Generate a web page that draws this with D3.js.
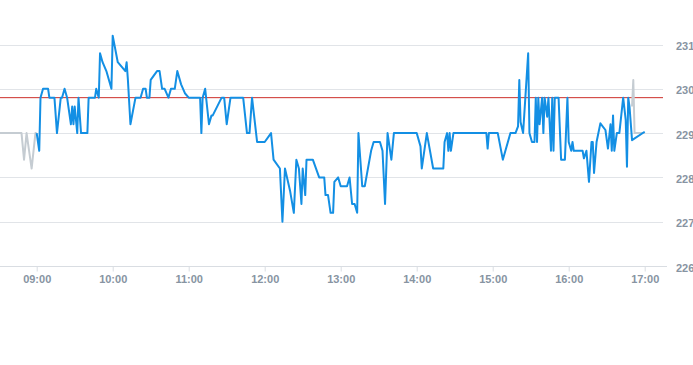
<!DOCTYPE html>
<html>
<head>
<meta charset="utf-8">
<script src="https://cdn.jsdelivr.net/npm/d3@7"></script>
<style>
  html, body { margin: 0; padding: 0; background: #fff; }
  svg { display: block; }
  text { font-family: "Liberation Sans", Arial, sans-serif; }
</style>
</head>
<body>
<svg id="chart" width="693" height="365"></svg>
<script>
// ---- data ----
const preTimes  = ["08:30","08:48","08:50","08:52","08:56","08:59","09:00"];
const preValues = [229.0, 229.0, 228.4, 229.0, 228.2, 229.0, 229.0];

const sessionTimes = [
  "09:00","09:02","09:03","09:05","09:09","09:10","09:14","09:16","09:19","09:20",
  "09:22","09:24","09:27","09:28","09:29","09:30","09:32","09:33","09:35","09:40",
  "09:41","09:46","09:47","09:49","09:50","09:52","09:55","09:59","10:00","10:04",
  "10:07","10:10","10:11","10:12","10:14","10:18","10:22","10:24","10:26","10:27",
  "10:29","10:30","10:35","10:37","10:39","10:41","10:44","10:46","10:49","10:51",
  "10:54","10:57","11:00","11:09","11:10","11:11","11:13","11:16","11:18","11:19",
  "11:26","11:28","11:30","11:33","11:43","11:46","11:48","11:50","11:54","12:00",
  "12:05","12:07","12:12","12:14","12:16","12:20","12:23","12:25","12:27","12:29",
  "12:30","12:32","12:33","12:38","12:43","12:47","12:48","12:50","12:52","12:54",
  "12:55","12:58","13:00","13:05","13:07","13:09","13:11","13:13","13:14","13:17",
  "13:19","13:24","13:26","13:31","13:33","13:35","13:37","13:40","13:42","14:00",
  "14:03","14:04","14:08","14:13","14:21","14:22","14:24","14:25","14:26","14:27",
  "14:29","14:55","14:56","14:57","15:04","15:08","15:14","15:18","15:20","15:21",
  "15:22","15:24","15:28","15:29","15:31","15:33","15:34","15:35","15:36","15:37",
  "15:39","15:40","15:41","15:43","15:44","15:46","15:47","15:48","15:49","15:52",
  "15:54","15:57","15:59","16:00","16:02","16:03","16:04","16:11","16:12","16:14",
  "16:16","16:18","16:19","16:20","16:22","16:25","16:29","16:31","16:33","16:34",
  "16:35","16:36","16:38","16:40","16:43","16:45","16:46","16:47","16:48","16:50",
  "17:00"
];
const sessionValues = [
  229.0, 228.6, 229.8, 230.0, 230.0, 229.8, 229.8, 229.0, 229.8, 229.8,
  230.0, 229.8, 229.2, 229.6, 229.2, 229.6, 229.0, 229.8, 229.0, 229.0,
  229.8, 229.8, 230.0, 229.8, 230.8, 230.6, 230.4, 230.0, 231.2, 230.6,
  230.5, 230.4, 230.6, 230.2, 229.2, 229.8, 229.8, 230.0, 230.0, 229.8,
  229.8, 230.2, 230.4, 230.4, 230.0, 230.0, 229.8, 230.0, 230.0, 230.4,
  230.1, 229.9, 229.8, 229.8, 229.0, 229.8, 230.0, 229.2, 229.4, 229.4,
  229.8, 229.8, 229.2, 229.8, 229.8, 229.0, 229.0, 229.8, 228.8, 228.8,
  229.0, 228.4, 228.2, 227.0, 228.2, 227.7, 227.2, 228.4, 228.2, 227.4,
  228.2, 227.6, 228.4, 228.4, 228.0, 228.0, 227.6, 227.6, 227.2, 227.2,
  227.9, 228.0, 227.8, 227.8, 228.0, 227.4, 227.4, 227.2, 229.0, 227.8,
  227.8, 228.6, 228.8, 228.8, 228.6, 227.4, 229.0, 228.4, 229.0, 229.0,
  228.7, 228.2, 229.0, 228.2, 228.2, 228.8, 229.0, 228.6, 229.0, 228.6,
  229.0, 229.0, 228.65, 229.0, 229.0, 228.4, 229.0, 229.0, 229.15, 230.2,
  229.25, 229.0, 230.8, 229.0, 228.8, 228.8, 229.8, 228.8, 229.8, 229.2,
  229.8, 229.0, 229.8, 229.37, 229.8, 228.6, 229.8, 228.6, 229.8, 229.8,
  228.4, 228.4, 229.8, 228.8, 228.6, 228.8, 228.6, 228.6, 228.43, 228.6,
  227.9, 228.8, 228.8, 228.1, 228.8, 229.22, 229.07, 228.65, 229.2, 228.6,
  229.4, 228.6, 229.0, 229.0, 229.8, 229.3, 228.24, 229.8, 229.6, 228.84,
  229.03
];

const postTimes  = ["16:50","16:51","16:52","17:00"];
const postValues = [229.6, 230.2, 229.0, 229.0];

const referencePrice = 229.8;
const yTickValues = [226, 227, 228, 229, 230, 231];
const xTickLabels = ["09:00","10:00","11:00","12:00","13:00","14:00","15:00","16:00","17:00"];
const domainStart = "08:30", domainEnd = "17:15";

// ---- chart ----
const parse = d3.timeParse("%H:%M");
const plotLeft = 0, plotRight = 663, plotTop = 44.5, plotBottom = 266;

const x = d3.scaleTime()
  .domain([parse(domainStart), parse(domainEnd)])
  .range([-1.3, 663.7]);
const y = d3.scaleLinear().domain([226, 231]).range([plotBottom, plotTop]);

const svg = d3.select("#chart");
const labelColor = "#8794a2";

// grid lines
svg.append("g").selectAll("line").data(yTickValues.filter(v => v !== 226)).join("line")
  .attr("x1", plotLeft).attr("x2", plotRight)
  .attr("y1", d => Math.round(y(d)) + 0.5).attr("y2", d => Math.round(y(d)) + 0.5)
  .attr("stroke", "#e1e4e8").attr("stroke-width", 1);

// x axis
const xAxis = d3.axisBottom(x)
  .tickValues(xTickLabels.map(parse))
  .tickFormat(d3.timeFormat("%H:%M"))
  .tickSize(5).tickSizeOuter(0).tickPadding(4);
const gx = svg.append("g").attr("transform", `translate(0,${Math.round(plotBottom) + 0.5})`).call(xAxis);
gx.select(".domain").attr("stroke", "#d9dde2").attr("d", `M${plotLeft},0H${plotRight + 4}`);
gx.selectAll(".tick line").attr("stroke", "#d9dde2");
gx.selectAll(".tick text").attr("fill", labelColor).attr("font-size", 11).attr("font-weight", "bold")
  .attr("font-family", "'Liberation Sans', Arial, sans-serif");

// y axis labels on right
const yAxis = d3.axisRight(y).tickValues(yTickValues).tickFormat(d3.format("d"))
  .tickSize(0).tickPadding(0);
const gy = svg.append("g").attr("transform", `translate(676,1.5)`).call(yAxis);
gy.select(".domain").remove();
gy.selectAll(".tick text").attr("fill", labelColor).attr("font-size", 11).attr("font-weight", "bold")
  .attr("font-family", "'Liberation Sans', Arial, sans-serif");

// clip
svg.append("clipPath").attr("id", "clip").append("rect")
  .attr("x", plotLeft).attr("y", 0).attr("width", plotRight - plotLeft).attr("height", plotBottom);

const line = d3.line().x(d => x(d.t)).y(d => y(d.v));
const toPts = (ts, vs) => ts.map((t, i) => ({ t: parse(t), v: vs[i] }));

const g = svg.append("g").attr("clip-path", "url(#clip)");

// reference line
g.append("line")
  .attr("x1", plotLeft).attr("x2", plotRight)
  .attr("y1", y(referencePrice)).attr("y2", y(referencePrice))
  .attr("stroke", "#cc2f2a").attr("stroke-width", 1);

g.append("path").datum(toPts(preTimes, preValues))
  .attr("d", line).attr("fill", "none").attr("stroke", "#c5ccd2")
  .attr("stroke-width", 2).attr("stroke-linejoin", "round");

g.append("path").datum(toPts(postTimes, postValues))
  .attr("d", line).attr("fill", "none").attr("stroke", "#c5ccd2")
  .attr("stroke-width", 2).attr("stroke-linejoin", "round");

g.append("path").datum(toPts(sessionTimes, sessionValues))
  .attr("d", line).attr("fill", "none").attr("stroke", "#138fe4")
  .attr("stroke-width", 2).attr("stroke-linejoin", "round");
</script>
</body>
</html>
